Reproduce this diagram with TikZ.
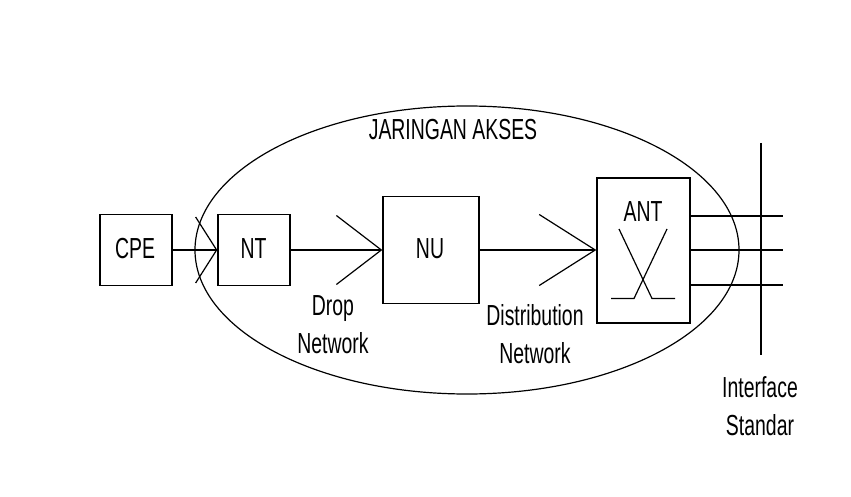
\documentclass[tikz,border=0pt]{standalone}
\usepackage{fontspec}
\newfontfamily\lbl[FakeStretch=0.67]{Liberation Sans}
\usetikzlibrary{shapes.geometric,arrows.meta}
\begin{document}
\begin{tikzpicture}[x=1pt,y=-1pt,line width=1.3pt,
  box/.style={draw,rectangle,inner sep=0pt},
  txt/.style={font=\lbl\fontsize{29}{37.5}\selectfont,inner sep=0pt,anchor=base,align=center},
  conn/.style={line width=1.3pt}]
\useasboundingbox[fill=white] (0,0) rectangle (851,497);
% ellipse
\node[draw,ellipse,inner sep=0pt,minimum width=544pt,minimum height=288pt,line width=1.2pt] (acc) at (467,250) {};
\node[txt] (accl) at (453,140) {JARINGAN AKSES};
% boxes
\node[box,minimum width=72pt,minimum height=71pt] (cpe) at (136,250) {};
\node[txt] (cpel) at (135,258) {CPE};
\node[box,minimum width=72pt,minimum height=71pt] (nt) at (254,250) {};
\node[txt] (ntl) at (253.5,258) {NT};
\node[box,minimum width=96pt,minimum height=107pt] (nu) at (431,250) {};
\node[txt] (nul) at (430,258) {NU};
\node[box,minimum width=93pt,minimum height=145pt] (ant) at (643.5,250.5) {};
\node[txt] (antl) at (643,222) {ANT};
% labels (anchor = baseline of last line)
\node[txt] (drop) at (333,353) {Drop\\Network};
\node[txt] (dist) at (535,363) {Distribution\\Network};
\node[txt] (intf) at (760,435) {Interface\\Standar};
% connectors
\draw[conn,-{Straight Barb[length=21pt,width=66pt,line width=1.2pt]}] (cpe.east) -- (nt.west);
\draw[conn,-{Straight Barb[length=45pt,width=69pt,line width=1.2pt]}] (nt.east) -- (nu.west);
\draw[conn,-{Straight Barb[length=56pt,width=71pt,line width=1.2pt]}] (nu.east) -- (nu.east -| ant.west);
% interface lines
\coordinate (o1) at (783,216);
\coordinate (o2) at (783,250);
\coordinate (o3) at (783,285);
\draw[conn] (ant.east |- o1) -- (o1);
\draw[conn] (ant.east |- o2) -- (o2);
\draw[conn] (ant.east |- o3) -- (o3);
\coordinate (vt) at (761,143);
\coordinate (vb) at (761,355);
\draw[conn] (vt) -- (vb);
% cross symbol in ANT
\draw[line width=1.2pt] (619,229) -- (652,298.5) -- (675,298.5);
\draw[line width=1.2pt] (667,229) -- (634,298.5) -- (611,298.5);
\end{tikzpicture}
\end{document}
